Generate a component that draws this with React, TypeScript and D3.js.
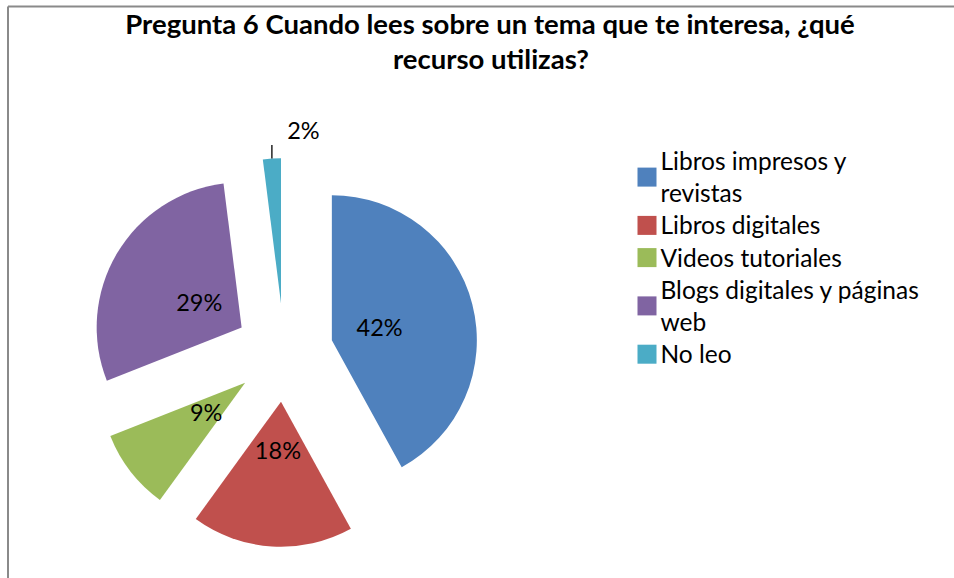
import React from "react";
import * as d3 from "d3";

const titleLines = ["Pregunta 6 Cuando lees sobre un tema que te interesa, ¿qué", "recurso utilizas?"];
const categories = ["Libros impresos y revistas", "Libros digitales", "Videos tutoriales", "Blogs digitales y páginas web", "No leo"];
const legendLines = [["Libros impresos y", "revistas"], ["Libros digitales"], ["Videos tutoriales"], ["Blogs digitales y páginas", "web"], ["No leo"]];
const values = [42, 18, 9, 29, 2];
const colors = ["#4F81BD", "#C0504D", "#9BBB59", "#8064A2", "#4BACC6"];

const W = 954;
const H = 578;
const FONT = "Lato, 'Open Sans', sans-serif";

export default function App() {
  const cx = 284.1;
  const cy = 352.5;
  const R = 145;
  const explode = 49.3;

  const pie = d3.pie<number>().sort(null).value((d) => d);
  const arcs = pie(values);
  const arc = d3.arc<d3.PieArcDatum<number>>().innerRadius(0).outerRadius(R);

  const dirOf = (a: d3.PieArcDatum<number>) => {
    const m = (a.startAngle + a.endAngle) / 2;
    return [Math.sin(m), -Math.cos(m)];
  };

  // legend layout
  const legendX = 637.5;
  const textX = 660.5;
  const firstBaseline = 170;
  const pitch = 32.2;
  let lineIdx = 0;
  const legendItems = legendLines.map((lines, i) => {
    const baselines = lines.map(() => firstBaseline + pitch * lineIdx++);
    const mean = d3.mean(baselines) as number;
    return { lines, baselines, sqY: mean - 9 - 9.5, color: colors[i], name: categories[i] };
  });

  return (
    <svg width={W} height={H} style={{ position: "absolute", left: 0, top: 0, background: "#fff" }} fontFamily={FONT}>
      <rect x={0} y={0} width={W} height={H} fill="#fff" />
      {/* frame */}
      <line x1={8} y1={6.5} x2={W} y2={6.5} stroke="#8a8a8a" strokeWidth={2} />
      <line x1={8} y1={6.5} x2={8} y2={H} stroke="#8a8a8a" strokeWidth={2} />

      {/* title */}
      <text x={490} y={34} textAnchor="middle" fontWeight="bold" fontSize={27.5} fill="#000">
        {titleLines[0]}
      </text>
      <text x={491} y={69} textAnchor="middle" fontWeight="bold" fontSize={27.5} fill="#000">
        {titleLines[1]}
      </text>

      {/* pie */}
      <g transform={`translate(${cx},${cy})`}>
        {arcs.map((a, i) => {
          const [dx, dy] = dirOf(a);
          return (
            <path
              key={i}
              d={arc(a) as string}
              transform={`translate(${dx * explode},${dy * explode})`}
              fill={colors[i]}
            />
          );
        })}
        {arcs.map((a, i) => {
          const [dx, dy] = dirOf(a);
          const label = `${values[i]}%`;
          if (values[i] < 5) {
            const ox = dx * (explode + R);
            const oy = dy * (explode + R);
            const ey = oy - 13.6;
            return (
              <g key={"l" + i}>
                <line x1={ox} y1={oy} x2={ox} y2={ey} stroke="#000" strokeWidth={1.3} />
                <text x={ox + 31.5} y={ey - 5.7} textAnchor="middle" fontSize={23.5} fill="#000">
                  {label}
                </text>
              </g>
            );
          }
          const r = explode + R * 0.34;
          return (
            <text key={"l" + i} x={dx * r} y={dy * r} dy="0.36em" textAnchor="middle" fontSize={23.5} fill="#000">
              {label}
            </text>
          );
        })}
      </g>

      {/* legend */}
      <g>
        {legendItems.map((it, i) => (
          <g key={i}>
            <rect x={legendX} y={it.sqY} width={19} height={19} fill={it.color} />
            {it.lines.map((ln, j) => (
              <text key={j} x={textX} y={it.baselines[j]} fontSize={24.5} fill="#000">
                {ln}
              </text>
            ))}
          </g>
        ))}
      </g>
    </svg>
  );
}
